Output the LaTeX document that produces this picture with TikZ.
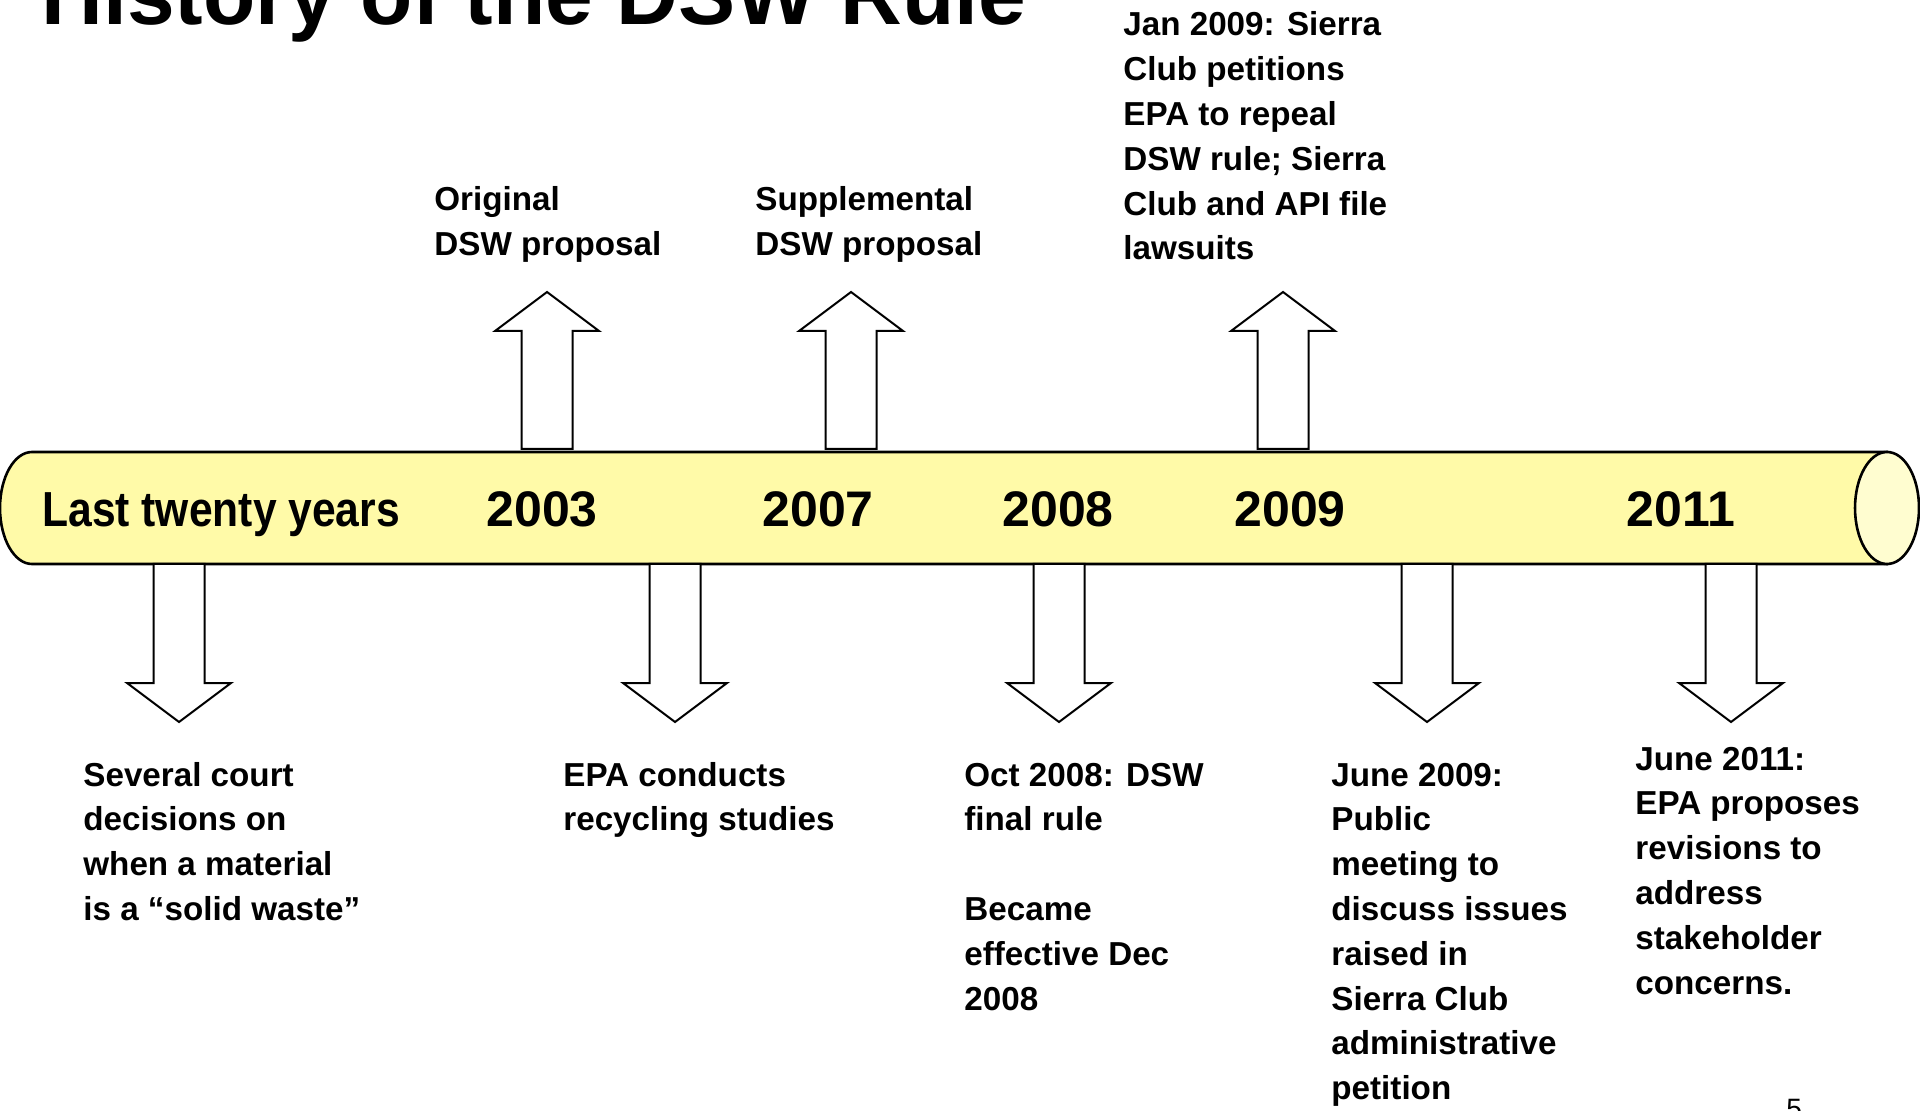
\documentclass[tikz,border=0pt]{standalone}
\usepackage{fontspec}
\setmainfont{Liberation Sans}
\newfontfamily\condbold{Liberation Sans}[FakeStretch=0.866]
\definecolor{tubefill}{RGB}{255,250,168}
\definecolor{tubeend}{RGB}{255,253,208}
\tikzset{
  tubeline/.style={draw=black, line width=1.3pt},
  blockarrow/.style={draw=black, fill=white, line width=1pt, line join=miter},
  lbl/.style={anchor=base west, inner sep=0pt, font=\bfseries\fontsize{16.6}{22.4}\selectfont},
  yr/.style={anchor=base west, inner sep=0pt, font=\bfseries\fontsize{25}{29}\selectfont},
  uparrowpic/.pic={\path[blockarrow] (-25.5,157) -- (-25.5,39) -- (-52,39) -- (0,0) -- (52,39) -- (25.5,39) -- (25.5,157) -- cycle;},
  downarrowpic/.pic={\path[blockarrow] (-25.5,-158) -- (-25.5,-39) -- (-52,-39) -- (0,0) -- (52,-39) -- (25.5,-39) -- (25.5,-158) -- cycle;}
}
\begin{document}
\begin{tikzpicture}[x=0.5pt,y=-0.5pt]
\useasboundingbox (0,0) rectangle (1920,1111);
% title
\node[anchor=base west, inner sep=0pt, font=\bfseries\fontsize{42.8}{48}\selectfont] (title) at (41,25) {History of the DSW Rule};
% cylinder body
\path[tubeline, fill=tubefill] (32,564) arc[start angle=90, end angle=270, x radius=32, y radius=56] -- (1887,452) -- (1887,564) -- cycle;
\path[tubeline, fill=tubeend] (1887,508) ellipse [x radius=32, y radius=56];
% year labels
\node[yr, font=\condbold\bfseries\fontsize{24.6}{29}\selectfont] (last) at (42,527) {Last twenty years};
\node[yr] (y2003) at (486,527) {2003};
\node[yr] (y2007) at (762,527) {2007};
\node[yr] (y2008) at (1002,527) {2008};
\node[yr] (y2009) at (1234,527) {2009};
\node[yr] (y2011) at (1626,527) {2011};
% up arrows
\pic at (547,292) {uparrowpic};
\pic at (851,292) {uparrowpic};
\pic at (1283,292) {uparrowpic};
% down arrows
\pic at (179,722) {downarrowpic};
\pic at (675,722) {downarrowpic};
\pic at (1059,722) {downarrowpic};
\pic at (1427,722) {downarrowpic};
\pic at (1731,722) {downarrowpic};
% upper labels
\node[lbl] (orig) at (434,211) {\begin{tabular}[t]{@{}l@{}}Original\\DSW proposal\end{tabular}};
\node[lbl] (supp) at (755,211) {\begin{tabular}[t]{@{}l@{}}Supplemental\\DSW proposal\end{tabular}};
\node[lbl] (jan) at (1123,36) {\begin{tabular}[t]{@{}l@{}}Jan 2009: Sierra\\Club petitions\\EPA to repeal\\DSW rule; Sierra\\Club and API file\\lawsuits\end{tabular}};
% lower labels
\node[lbl] (court) at (83,786) {\begin{tabular}[t]{@{}l@{}}Several court\\decisions on\\when a material\\is a “solid waste”\end{tabular}};
\node[lbl] (epa) at (563,786) {\begin{tabular}[t]{@{}l@{}}EPA conducts\\recycling studies\end{tabular}};
\node[lbl] (oct) at (964,786) {\begin{tabular}[t]{@{}l@{}}Oct 2008: DSW\\final rule\\ \\Became\\effective Dec\\2008\end{tabular}};
\node[lbl] (june9) at (1331,786) {\begin{tabular}[t]{@{}l@{}}June 2009:\\Public\\meeting to\\discuss issues\\raised in\\Sierra Club\\administrative\\petition\end{tabular}};
\node[lbl] (june11) at (1635,770) {\begin{tabular}[t]{@{}l@{}}June 2011:\\EPA proposes\\revisions to\\address\\stakeholder\\concerns.\end{tabular}};
% page number
\node[anchor=base west, inner sep=0pt, font=\fontsize{14}{16}\selectfont] (pagenum) at (1786,1118) {5};
\end{tikzpicture}
\end{document}
